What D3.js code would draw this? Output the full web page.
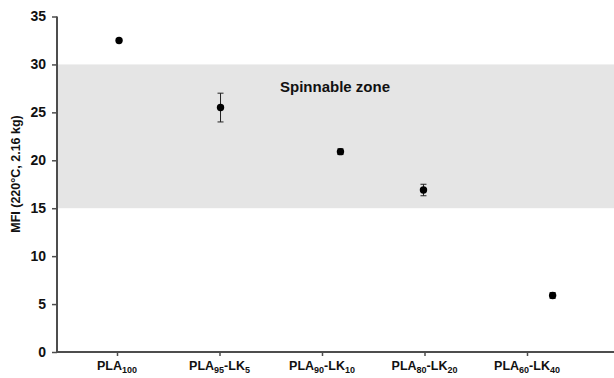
<!DOCTYPE html>
<html>
<head>
<meta charset="utf-8">
<script src="https://cdn.jsdelivr.net/npm/d3@7"></script>
<style>
  body { margin: 0; background: #fff; }
  svg { display: block; font-family: "Liberation Sans", Arial, sans-serif; }
</style>
</head>
<body>
<svg id="chart" width="614" height="378"></svg>
<script>
// Data
const samples = ['PLA100', 'PLA95-LK5', 'PLA90-LK10', 'PLA80-LK20', 'PLA60-LK40'];
// category index of each label / tick
const catPos = [1, 2, 3, 4, 5];
// label pieces: [main, sub, main, sub]
const labelParts = [
  ['PLA', '100'],
  ['PLA', '95', '-LK', '5'],
  ['PLA', '90', '-LK', '10'],
  ['PLA', '80', '-LK', '20'],
  ['PLA', '60', '-LK', '40']
];
// where each marker sits along the category axis (as drawn in the original)
const pointPos = [1.02, 2.01, 3.18, 3.99, 5.25];
const mfi = [32.5, 25.5, 20.9, 16.9, 5.9];
const mfiErr = [0, 1.5, 0.3, 0.6, 0.3];
const yTicks = [0, 5, 10, 15, 20, 25, 30, 35];
const zone = [15, 30];

const svg = d3.select('#chart');
const width = 614, height = 378;
const axisColor = '#4d4d4d';

// Scales
const x = d3.scaleLinear().domain([1, 5]).range([117, 527]);
const y = d3.scaleLinear().domain([0, 35]).range([352, 16.5]);
const axisLeft = 57;

// Spinnable zone band
svg.append('rect')
  .attr('x', axisLeft)
  .attr('y', y(zone[1]))
  .attr('width', width - axisLeft)
  .attr('height', y(zone[0]) - y(zone[1]))
  .attr('fill', '#e5e5e5');

svg.append('text')
  .attr('x', 335)
  .attr('y', 92)
  .attr('text-anchor', 'middle')
  .attr('font-size', 15)
  .attr('font-weight', 'bold')
  .attr('fill', '#111')
  .text('Spinnable zone');

// Y axis
const yAxis = svg.append('g')
  .attr('transform', `translate(${axisLeft},0)`)
  .call(d3.axisLeft(y).tickValues(yTicks).tickSize(5).tickPadding(6));
yAxis.select('.domain').attr('stroke', axisColor).attr('stroke-width', 2)
  .attr('d', `M0,${y(35)}V${y(0)}`);
yAxis.selectAll('.tick line').attr('stroke', axisColor).attr('stroke-width', 1.5);
yAxis.selectAll('.tick text')
  .attr('font-size', 14)
  .attr('font-weight', 'bold')
  .attr('fill', '#111')
  .attr('font-family', '"Liberation Sans", Arial, sans-serif');

// X axis
const xAxis = svg.append('g')
  .attr('transform', `translate(0,${y(0)})`)
  .call(d3.axisBottom(x).tickValues(catPos).tickSize(4).tickFormat(''));
xAxis.select('.domain').attr('stroke', axisColor).attr('stroke-width', 2)
  .attr('d', `M${axisLeft},0H${width}`);
xAxis.selectAll('.tick line').attr('stroke', axisColor).attr('stroke-width', 1.5);

// X labels with subscripts
samples.forEach((s, i) => {
  const t = svg.append('text')
    .attr('x', x(catPos[i]))
    .attr('y', 370)
    .attr('text-anchor', 'middle')
    .attr('font-size', 12.5)
    .attr('font-weight', 'bold')
    .attr('fill', '#111');
  labelParts[i].forEach((p, j) => {
    const sub = j % 2 === 1;
    t.append('tspan')
      .attr('font-size', sub ? 9 : 12.5)
      .attr('dy', sub ? 3 : (j === 0 ? 0 : -3))
      .text(p);
  });
});

// Y title
svg.append('text')
  .attr('transform', `translate(20,174) rotate(-90)`)
  .attr('text-anchor', 'middle')
  .attr('font-size', 12.5)
  .attr('font-weight', 'bold')
  .attr('fill', '#111')
  .text('MFI (220°C, 2.16 kg)');

// Error bars
const bars = svg.append('g').attr('stroke', '#222').attr('stroke-width', 1);
samples.forEach((s, i) => {
  if (mfiErr[i] <= 0) return;
  const cx = x(pointPos[i]);
  const top = y(mfi[i] + mfiErr[i]);
  const bot = y(mfi[i] - mfiErr[i]);
  bars.append('line').attr('x1', cx).attr('x2', cx).attr('y1', top).attr('y2', bot);
  bars.append('line').attr('x1', cx - 3).attr('x2', cx + 3).attr('y1', top).attr('y2', top);
  bars.append('line').attr('x1', cx - 3).attr('x2', cx + 3).attr('y1', bot).attr('y2', bot);
});

// Points
svg.append('g').selectAll('circle')
  .data(samples)
  .join('circle')
  .attr('cx', (d, i) => x(pointPos[i]))
  .attr('cy', (d, i) => y(mfi[i]))
  .attr('r', 3.7)
  .attr('fill', '#000');
</script>
</body>
</html>
